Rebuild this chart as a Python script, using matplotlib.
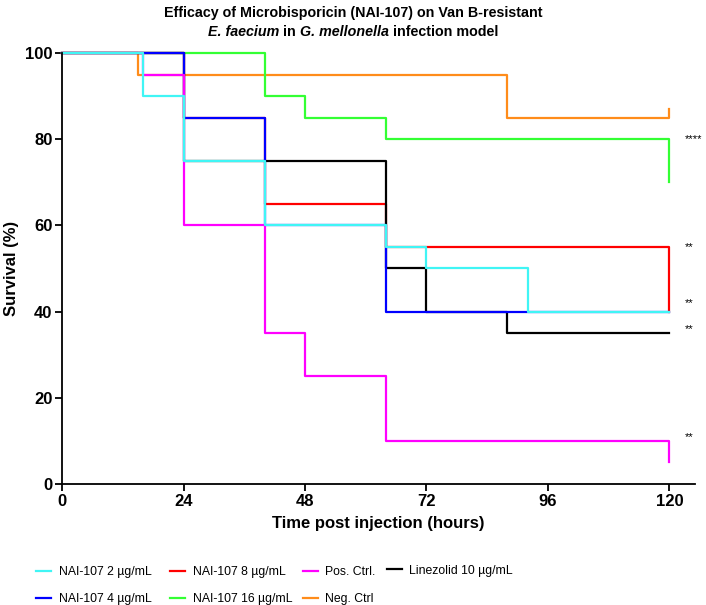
import matplotlib.pyplot as plt
from matplotlib.offsetbox import TextArea, HPacker, AnchoredOffsetbox

plt.rcParams['font.family'] = ['Liberation Sans', 'DejaVu Sans']

# survival curves (time in hours, survival in %)
t_2 = [0, 16, 24, 40, 64, 72, 92, 120]
s_2 = [100, 90, 75, 60, 55, 50, 40, 40]
t_4 = [0, 24, 40, 64, 120]
s_4 = [100, 85, 60, 40, 40]
t_8 = [0, 24, 40, 64, 120, 120]
s_8 = [100, 85, 65, 55, 55, 40]
t_16 = [0, 40, 48, 64, 120, 120]
s_16 = [100, 90, 85, 80, 80, 70]
t_pos = [0, 16, 24, 40, 48, 64, 120, 120]
s_pos = [100, 95, 60, 35, 25, 10, 10, 5]
t_neg = [0, 15, 88, 120, 120]
s_neg = [100, 95, 85, 85, 87]
t_lin = [0, 24, 64, 72, 88, 120]
s_lin = [100, 75, 50, 40, 35, 35]

# significance marks
sig_y = [80, 55, 42, 36, 11]
sig_txt = ['****', '**', '**', '**', '**']

xticks = [0, 24, 48, 72, 96, 120]
yticks = [0, 20, 40, 60, 80, 100]

fig = plt.figure(figsize=(7.06, 6.05), dpi=100)
ax = fig.add_axes([0.088, 0.2, 0.896, 0.7124])

lw = 1.6
# draw order chosen so overlaps look like the original
series = [
    (t_neg, s_neg, '#FF8C1A', 'Neg. Ctrl'),
    (t_16, s_16, '#33FF33', 'NAI-107 16 µg/mL'),
    (t_8, s_8, '#FF0000', 'NAI-107 8 µg/mL'),
    (t_lin, s_lin, '#000000', 'Linezolid 10 µg/mL'),
    (t_4, s_4, '#0000FF', 'NAI-107 4 µg/mL'),
    (t_pos, s_pos, '#FF00FF', 'Pos. Ctrl.'),
    (t_2, s_2, '#40F5F5', 'NAI-107 2 µg/mL'),
]
handles = {}
for t, s, c, lab in series:
    h, = ax.step(t, s, where='post', color=c, lw=lw, label=lab, clip_on=False)
    handles[lab] = h

for y, txt in zip(sig_y, sig_txt):
    ax.text(123, y, txt, fontsize=8, ha='left', va='center')

ax.set_xlim(0, 125)
ax.set_ylim(0, 100)
ax.set_xticks(xticks)
ax.set_yticks(yticks)
ax.spines['top'].set_visible(False)
ax.spines['right'].set_visible(False)
for sp in ['left', 'bottom']:
    ax.spines[sp].set_linewidth(1.3)
ax.tick_params(width=1.3, length=5, labelsize=12, pad=2)
for lbl in ax.get_xticklabels() + ax.get_yticklabels():
    lbl.set_fontweight('bold')

ax.set_xlabel('Time post injection (hours)', fontsize=12, fontweight='bold', labelpad=5)
ax.set_ylabel('Survival (%)', fontsize=12, fontweight='bold', labelpad=4)

# title: first line plain bold, second line mixes bold italic and bold
tsize = 10.3
fig.text(0.5, 0.99, 'Efficacy of Microbisporicin (NAI-107) on Van B-resistant',
         ha='center', va='top', fontsize=tsize, fontweight='bold')
parts = [('E. faecium', 'italic'), (' in ', 'normal'),
         ('G. mellonella', 'italic'), (' infection model', 'normal')]
boxes = [TextArea(s, textprops=dict(fontsize=tsize, fontweight='bold', fontstyle=st))
         for s, st in parts]
line2 = HPacker(children=boxes, align='baseline', pad=0, sep=0)
fig.add_artist(AnchoredOffsetbox(loc='upper center', child=line2, frameon=False,
                                 bbox_to_anchor=(0.5, 0.958),
                                 bbox_transform=fig.transFigure,
                                 pad=0, borderpad=0))

# legend laid out in columns, as in the original
leg_cols = [
    (['NAI-107 2 µg/mL', 'NAI-107 4 µg/mL'], 0.051, 0.032),
    (['NAI-107 8 µg/mL', 'NAI-107 16 µg/mL'], 0.241, 0.032),
    (['Pos. Ctrl.', 'Neg. Ctrl'], 0.429, 0.032),
    (['Linezolid 10 µg/mL'], 0.548, 0.057),
]
for labs, x0, y0 in leg_cols:
    fig.legend([handles[k] for k in labs], labs, loc='center left',
               bbox_to_anchor=(x0, y0), frameon=False,
               prop={'size': 8.8},
               handlelength=1.25, handletextpad=0.6, labelspacing=1.25,
               borderpad=0, borderaxespad=0)

fig.savefig('out.png', dpi=100)
